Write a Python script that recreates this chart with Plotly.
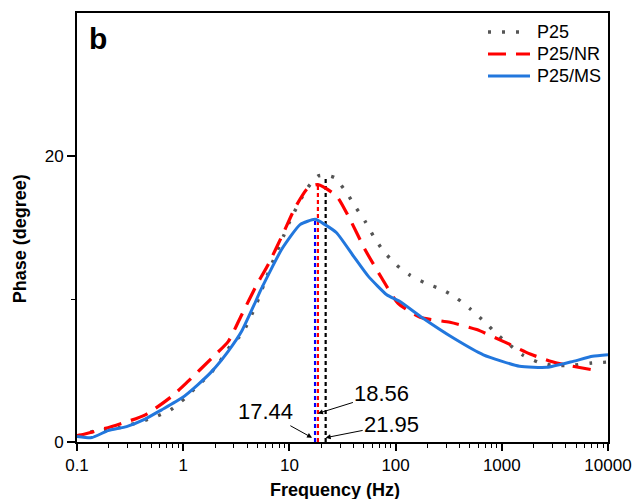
import plotly.graph_objects as go
import math

# ---- data ----
p25_freq = [0.1, 0.119, 0.177, 0.25, 0.53, 0.76, 1.04, 1.37, 1.79, 2.22, 2.76, 3.6, 4.8, 6.5, 8.8, 10.1,
            14.5, 18.6, 21.95, 26.7, 34.6, 41.4, 51.5, 61.8, 76.6, 102, 137, 190, 273, 375, 505, 690,
            890, 1200, 1590, 2200, 3000, 4500, 7050, 10000]
p25_phase = [0.4, 0.62, 0.85, 1.0, 1.72, 2.25, 3.07, 3.94, 4.75, 5.64, 6.69, 7.6, 9.5, 12.06, 14.4, 15.45,
             17.67, 18.6, 18.65, 18.48, 17.43, 16.5, 15.45, 14.4, 13.36, 12.38, 11.66, 11.12, 10.66, 10.07, 9.3, 8.39,
             7.58, 6.76, 6.06, 5.59, 5.36, 5.36, 5.52, 5.59]

nr_freq = [0.1, 0.11, 0.23, 0.44, 0.78, 1.11, 1.86, 2.66, 3.5, 4.93, 6.3, 8.8, 11.3, 15.0, 18.56,
           27.8, 37.2, 51.5, 74, 105, 170, 325, 580, 1030, 1850, 3300, 7000]
nr_phase = [0.45, 0.5, 1.16, 1.9, 3.19, 4.24, 5.87, 7.04, 8.8, 11.0, 12.4, 14.63, 16.38, 17.78, 18.0,
            17.2, 15.57, 13.46, 11.47, 9.72, 8.72, 8.37, 7.86, 7.04, 6.15, 5.52, 5.06]

ms_freq = [0.1, 0.138, 0.196, 0.293, 0.437, 0.626, 0.968, 1.37, 1.86, 2.65, 3.55, 4.74, 5.3, 8.44, 12.6, 17.44,
           21.6, 27.8, 40.1, 55.2, 82.5, 109, 180, 350, 670, 1470, 2650, 4700, 7150, 10000]
ms_phase = [0.39, 0.31, 0.8, 1.08, 1.6, 2.25, 3.07, 4.0, 4.94, 6.34, 7.74, 9.72, 10.54, 13.46, 15.2, 15.57,
            15.2, 14.63, 13.0, 11.6, 10.3, 9.84, 8.67, 7.27, 6.1, 5.29, 5.22, 5.64, 5.99, 6.1]

peak_labels = ["17.44", "18.56", "21.95"]
peak_freqs = [17.44, 18.56, 21.95]
peak_tops = [15.57, 18.0, 18.6]
peak_colors = ["#0000ff", "#ff0000", "#000000"]

series_names = ["P25", "P25/NR", "P25/MS"]

x_tick_vals = [0.1, 1, 10, 100, 1000, 10000]
x_tick_text = ["0.1", "1", "10", "100", "1000", "10000"]
y_tick_vals = [0, 20]
y_minor_vals = [10]

FONT = "Liberation Sans, Arial, sans-serif"

# plot-area geometry (px)
W, H = 635, 499
ML, MR, MT, MB = 77, 27, 13, 57
PW, PH = W - ML - MR, H - MT - MB


def px_to_paper(px, py):
    return (px - ML) / PW, (H - MB - py) / PH


styles = [
    dict(color="#555555", width=3.4, dash="3px,11px"),
    dict(color="#ff0000", width=3.2, dash="18px,10px"),
    dict(color="#2277dd", width=3),
]

fig = go.Figure()

# vertical marker lines at peak frequencies
for f, top, c in zip(peak_freqs, peak_tops, peak_colors):
    fig.add_trace(go.Scatter(x=[f, f], y=[0, top], mode="lines", showlegend=False,
                             line=dict(color=c, width=2.2, dash="4px,3px"), hoverinfo="skip"))

for name, fx, vy, st, sm in zip(series_names, [p25_freq, nr_freq, ms_freq], [p25_phase, nr_phase, ms_phase],
                                styles, [0.6, 0.6, 0.5]):
    fig.add_trace(go.Scatter(x=fx, y=vy, mode="lines", name=name, showlegend=False,
                             line=dict(**st, shape="spline", smoothing=sm)))

# manual legend (matching the reference's sample length and row spacing)
for i, (name, st) in enumerate(zip(series_names, styles)):
    row_y = 32 + 22 * i
    x0, y0 = px_to_paper(488, row_y)
    x1, _ = px_to_paper(530, row_y)
    fig.add_shape(type="line", xref="paper", yref="paper", x0=x0, x1=x1, y0=y0, y1=y0,
                  line=dict(color=st["color"], width=st["width"], dash=st.get("dash", "solid")))
    tx, ty = px_to_paper(535, row_y)
    fig.add_annotation(x=tx, y=ty, xref="paper", yref="paper", text=name, showarrow=False,
                       xanchor="left", yanchor="middle", font=dict(family=FONT, size=18, color="black"))

# annotations with arrows
ann_offsets = {"17.44": (-47, -26, 0.3, -3), "18.56": (64, -20, 2.0, 0), "21.95": (66, -13, 0.3, 0)}
for lab, f in zip(peak_labels, peak_freqs):
    ax, ay, yh, xs = ann_offsets[lab]
    fig.add_annotation(x=math.log10(f), y=yh, xref="x", yref="y", text=lab, showarrow=True,
                       ax=ax, ay=ay, xshift=xs, arrowhead=2, arrowsize=1, arrowwidth=1, arrowcolor="black",
                       font=dict(family=FONT, size=22, color="black"))

fig.add_annotation(x=0.019, y=0.984, xref="paper", yref="paper", text="<b>b</b>", showarrow=False,
                   xanchor="left", yanchor="top", font=dict(family=FONT, size=30, color="black"))

# axis titles
fig.add_annotation(x=0.486, y=-0.112, xref="paper", yref="paper", text="<b>Frequency (Hz)</b>",
                   showarrow=False, xanchor="center", yanchor="middle",
                   font=dict(family=FONT, size=18, color="black"))
fig.add_annotation(x=-0.107, y=0.473, xref="paper", yref="paper", text="<b>Phase (degree)</b>",
                   showarrow=False, xanchor="center", yanchor="middle", textangle=-90,
                   font=dict(family=FONT, size=18, color="black"))

minor_x = [m * 10 ** d for d in range(-1, 4) for m in range(2, 10)]

fig.update_xaxes(type="log", range=[-1, 4], tickvals=x_tick_vals, ticktext=x_tick_text, automargin=False,
                 ticks="outside", ticklen=7, tickwidth=1.5, tickcolor="black",
                 showline=True, linecolor="black", linewidth=2, mirror=True, showgrid=False, zeroline=False,
                 minor=dict(tickvals=minor_x, ticks="outside", ticklen=4, tickwidth=1.2, tickcolor="black", showgrid=False),
                 tickfont=dict(family=FONT, size=17, color="black"))
fig.update_yaxes(range=[0, 30], tickvals=y_tick_vals, automargin=False,
                 ticks="outside", ticklen=8, tickwidth=1.5, tickcolor="black",
                 showline=True, linecolor="black", linewidth=2, mirror=True, showgrid=False, zeroline=False,
                 minor=dict(tickvals=y_minor_vals, ticks="outside", ticklen=4, tickwidth=1.2, tickcolor="black", showgrid=False),
                 tickfont=dict(family=FONT, size=17, color="black"))

fig.update_layout(width=W, height=H, margin=dict(l=ML, r=MR, t=MT, b=MB),
                  paper_bgcolor="white", plot_bgcolor="white", showlegend=False)

fig.write_html("out.html", config={"displayModeBar": False},
               post_script="document.body.style.margin='0';document.body.style.overflow='hidden';")
